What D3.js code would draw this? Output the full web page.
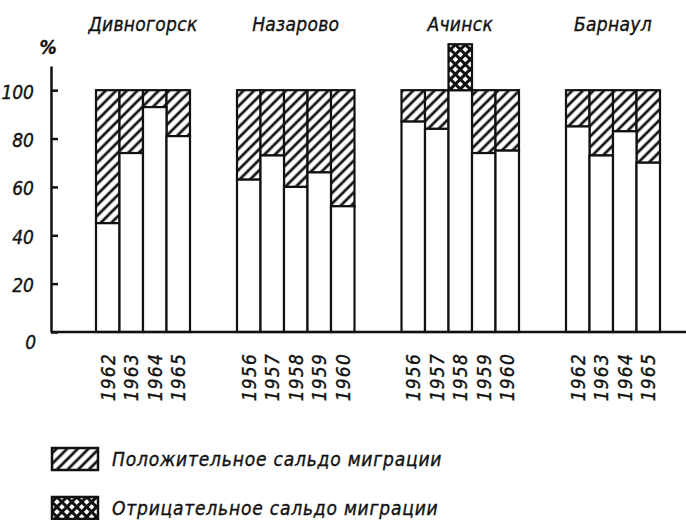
<!DOCTYPE html>
<html>
<head>
<meta charset="utf-8">
<title>Сальдо миграции</title>
<style>
body { margin: 0; background: #fff; }
text { font-family: "DejaVu Sans Condensed", "Liberation Sans", sans-serif; font-style: italic; fill: #111; stroke: #111; stroke-width: 0.35px; }
.bar { stroke: #111; stroke-width: 2.2; }
.axis path, .axis line { stroke: #111; stroke-width: 2.5; }
</style>
<script src="https://cdn.jsdelivr.net/npm/d3@7/dist/d3.min.js"></script>
</head>
<body>
<svg width="686" height="520"></svg>
<script>
// share of natural growth (white), rest up to 100 is positive migration
var cities = ["Дивногорск", "Назарово", "Ачинск", "Барнаул"];
var years = [
  [1962, 1963, 1964, 1965],
  [1956, 1957, 1958, 1959, 1960],
  [1956, 1957, 1958, 1959, 1960],
  [1962, 1963, 1964, 1965]
];
var natural = [
  [45, 74, 93, 81],
  [63, 73, 60, 66, 52],
  [87, 84, 100, 74, 75],
  [85, 73, 83, 70]
];
// negative migration balance, drawn above 100
var negative = [
  [0, 0, 0, 0],
  [0, 0, 0, 0, 0],
  [0, 0, 19, 0, 0],
  [0, 0, 0, 0]
];
var yTicks = [0, 20, 40, 60, 80, 100];
var legendLabels = ["Положительное сальдо миграции", "Отрицательное сальдо миграции"];

var svg = d3.select("svg");

var defs = svg.append("defs");
var h = defs.append("pattern")
    .attr("id", "hatch")
    .attr("patternUnits", "userSpaceOnUse")
    .attr("width", 7.5).attr("height", 7.5)
    .attr("patternTransform", "rotate(45)");
h.append("rect").attr("width", 7.5).attr("height", 7.5).attr("fill", "#fff");
h.append("rect").attr("x", 2.4).attr("width", 2.7).attr("height", 7.5).attr("fill", "#111");

var c = defs.append("pattern")
    .attr("id", "cross")
    .attr("patternUnits", "userSpaceOnUse")
    .attr("width", 7).attr("height", 7)
    .attr("patternTransform", "rotate(45)");
c.append("rect").attr("width", 7).attr("height", 7).attr("fill", "#fff");
c.append("rect").attr("x", 2).attr("width", 3).attr("height", 7).attr("fill", "#111");
c.append("rect").attr("y", 2).attr("width", 7).attr("height", 3).attr("fill", "#111");

// slots: bars plus two empty slots between cities
var offsets = [], n = 0;
years.forEach(function(ys, i) {
  offsets.push(n);
  n += ys.length + (i < years.length - 1 ? 2 : 0);
});

var x = d3.scaleLinear().domain([0, n]).range([96, 660]),
    y = d3.scaleLinear().domain([0, 110]).range([332, 66]);

var bars = [];
cities.forEach(function(city, i) {
  years[i].forEach(function(yr, j) {
    bars.push({city: i, year: yr, slot: offsets[i] + j, nat: natural[i][j], neg: negative[i][j]});
  });
});

var g = svg.append("g");

// hatched part (positive migration) up to 100
g.selectAll(".pos")
  .data(bars.filter(function(d) { return d.nat < 100; }))
  .enter().append("rect")
    .attr("class", "bar pos")
    .attr("x", function(d) { return x(d.slot); })
    .attr("width", x(1) - x(0))
    .attr("y", y(100))
    .attr("height", function(d) { return y(d.nat) - y(100); })
    .attr("fill", "url(#hatch)");

// white part (natural growth)
g.selectAll(".nat")
  .data(bars)
  .enter().append("rect")
    .attr("class", "bar nat")
    .attr("x", function(d) { return x(d.slot); })
    .attr("width", x(1) - x(0))
    .attr("y", function(d) { return y(d.nat); })
    .attr("height", function(d) { return y(0) - y(d.nat); })
    .attr("fill", "#fff");

// negative migration on top
g.selectAll(".neg")
  .data(bars.filter(function(d) { return d.neg > 0; }))
  .enter().append("rect")
    .attr("class", "bar neg")
    .attr("x", function(d) { return x(d.slot); })
    .attr("width", x(1) - x(0))
    .attr("y", function(d) { return y(d.nat + d.neg); })
    .attr("height", function(d) { return y(d.nat) - y(d.nat + d.neg); })
    .attr("fill", "url(#cross)");

// y axis, ticks pointing inwards
var yAxis = svg.append("g")
    .attr("class", "axis")
    .attr("transform", "translate(51,0)")
    .call(d3.axisLeft(y).tickValues(yTicks).tickSizeInner(-7).tickSizeOuter(0).tickPadding(17));
yAxis.selectAll(".tick text")
    .style("font-size", "19px")
    .attr("dy", function(d) { return d === 0 ? "0.85em" : "0.42em"; })
    .attr("fill", "#111");
yAxis.select(".tick text").attr("x", -15);

svg.append("text")
    .attr("x", 48).attr("y", 54)
    .attr("text-anchor", "middle")
    .style("font-size", "19px")
    .style("font-weight", "bold")
    .text("%");

// baseline
svg.append("line")
    .attr("x1", 51).attr("x2", 686)
    .attr("y1", y(0)).attr("y2", y(0))
    .attr("stroke", "#111").attr("stroke-width", 2.5);

// city titles
svg.selectAll(".city")
  .data(cities)
  .enter().append("text")
    .attr("class", "city")
    .attr("x", function(d, i) { return (x(offsets[i]) + x(offsets[i] + years[i].length)) / 2; })
    .attr("y", 31)
    .attr("text-anchor", "middle")
    .style("font-size", "19px")
    .style("letter-spacing", "0.3px")
    .text(function(d) { return d; });

// year labels, rotated
svg.selectAll(".yr")
  .data(bars)
  .enter().append("text")
    .attr("class", "yr")
    .attr("transform", function(d) { return "translate(" + (x(d.slot + 0.5)) + ",353) rotate(-90)"; })
    .attr("text-anchor", "end")
    .attr("dy", "0.36em")
    .style("font-size", "19px")
    .style("letter-spacing", "1.2px")
    .text(function(d) { return d.year; });

// legend
var leg = svg.selectAll(".leg")
  .data(legendLabels)
  .enter().append("g")
    .attr("class", "leg")
    .attr("transform", function(d, i) { return "translate(52," + (448 + i * 49) + ")"; });
leg.append("rect")
    .attr("width", 46).attr("height", 22)
    .attr("fill", function(d, i) { return i === 0 ? "url(#hatch)" : "url(#cross)"; })
    .attr("stroke", "#111").attr("stroke-width", 2.5);
leg.append("text")
    .attr("x", 60).attr("y", 18)
    .style("font-size", "19px")
    .style("letter-spacing", "0.8px")
    .text(function(d) { return d; });
</script>
</body>
</html>
